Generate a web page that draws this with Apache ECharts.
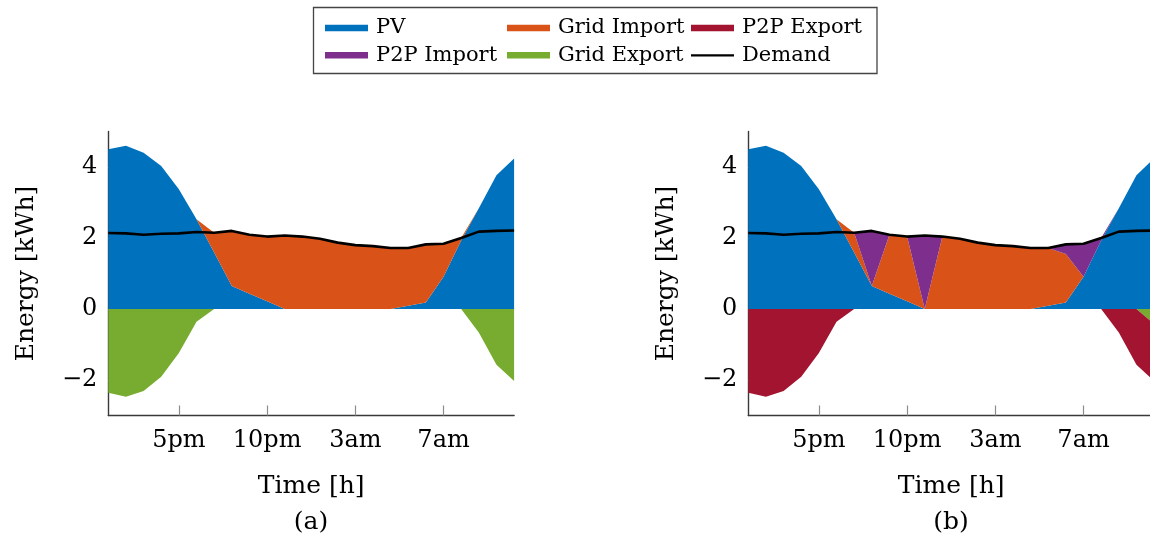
<!DOCTYPE html>
<html>
<head>
<meta charset="utf-8">
<title>Energy balance</title>
<script src="https://cdn.jsdelivr.net/npm/echarts@6/dist/echarts.min.js"></script>
<style>
  html, body { margin: 0; padding: 0; background: #fff; }
  #chart { width: 1150px; height: 540px; }
</style>
</head>
<body>
<div id="chart"></div>
<script>
// Time steps (hourly) and axis ticks
const steps = [1, 2, 3, 4, 5, 6, 7, 8, 9, 10, 11, 12, 13, 14, 15, 16, 17, 18, 19, 20, 21, 22, 23, 24];
const xTickPositions = [5, 10, 15, 20];
const xTickLabels = ['5pm', '10pm', '3am', '7am'];
const yTickValues = [-2, 0, 2, 4];

// Household demand and PV generation [kWh]
const demand = [2.14, 2.13, 2.09, 2.12, 2.13, 2.17, 2.15, 2.20, 2.09, 2.04, 2.07, 2.04, 1.98, 1.87, 1.80, 1.77, 1.72, 1.72, 1.82, 1.84, 2.00, 2.18, 2.20, 2.21];
const pv = [4.50, 4.60, 4.40, 4.03, 3.37, 2.53, 1.59, 0.65, 0.43, 0.22, 0, 0, 0, 0, 0, 0, 0, 0.09, 0.18, 0.91, 1.93, 2.84, 3.77, 4.24];

// (a) grid only
const gridImportA = [0, 0, 0, 0, 0, 0, 0.56, 1.55, 1.66, 1.82, 2.07, 2.04, 1.98, 1.87, 1.80, 1.77, 1.72, 1.63, 1.64, 0.93, 0.07, 0, 0, 0];
const gridExportA = [-2.36, -2.47, -2.31, -1.91, -1.24, -0.36, 0, 0, 0, 0, 0, 0, 0, 0, 0, 0, 0, 0, 0, 0, 0, -0.66, -1.57, -2.03];

// (b) with peer-to-peer trading
const gridImportB = [0, 0, 0, 0, 0, 0, 0.56, 0, 1.66, 1.82, 0, 2.04, 1.98, 1.87, 1.80, 1.77, 1.72, 1.63, 1.37, 0, 0, 0, 0, 0];
const p2pImportB = [0, 0, 0, 0, 0, 0, 0, 1.55, 0, 0, 2.07, 0, 0, 0, 0, 0, 0, 0, 0.27, 0.93, 0.07, 0, 0, 0];
const gridExportB = [0, 0, 0, 0, 0, 0, 0, 0, 0, 0, 0, 0, 0, 0, 0, 0, 0, 0, 0, 0, 0, 0, 0, -0.42];
const p2pExportB = [-2.36, -2.47, -2.31, -1.91, -1.24, -0.36, 0, 0, 0, 0, 0, 0, 0, 0, 0, 0, 0, 0, 0, 0, 0, -0.66, -1.57, -1.61];

const COLORS = {
  'PV': '#0072BD',
  'Grid Import': '#D95319',
  'P2P Export': '#A2142F',
  'P2P Import': '#7E2F8E',
  'Grid Export': '#77AC30',
  'Demand': '#000000'
};
const FONT = 'DejaVu Serif';

function areaSeries(name, values, stack, idx) {
  const c = COLORS[name];
  return {
    name: name,
    type: 'line',
    xAxisIndex: idx,
    yAxisIndex: idx,
    stack: stack + idx,
    data: values,
    symbol: 'none',
    showSymbol: false,
    lineStyle: { width: 0, opacity: 0 },
    areaStyle: { color: c, opacity: 1 },
    itemStyle: { color: c },
    emphasis: { disabled: true },
    z: 2
  };
}

function demandSeries(idx) {
  return {
    name: 'Demand',
    type: 'line',
    xAxisIndex: idx,
    yAxisIndex: idx,
    data: demand,
    symbol: 'none',
    showSymbol: false,
    lineStyle: { color: '#000', width: 2.6 },
    itemStyle: { color: '#000' },
    emphasis: { disabled: true },
    z: 5
  };
}

const isTick = (index) => xTickPositions.indexOf(steps[index]) >= 0;

function xAxis(idx) {
  return {
    type: 'category',
    gridIndex: idx,
    data: steps.map(String),
    boundaryGap: false,
    name: 'Time [h]',
    nameLocation: 'middle',
    nameGap: 58,
    nameTextStyle: { fontFamily: FONT, fontSize: 25, color: '#000' },
    axisLine: { show: true, onZero: false, lineStyle: { color: '#3a3a3a', width: 1.4 } },
    axisTick: { show: true, inside: true, length: 10, interval: isTick, lineStyle: { color: '#8c8c8c', width: 1.2 } },
    axisLabel: {
      interval: isTick,
      margin: 13,
      fontFamily: FONT, fontSize: 24, color: '#000',
      formatter: v => xTickLabels[xTickPositions.indexOf(Number(v))]
    },
    splitLine: { show: false }
  };
}

function yAxis(idx) {
  return {
    type: 'value',
    gridIndex: idx,
    min: -3,
    max: 5,
    name: 'Energy [kWh]',
    nameLocation: 'middle',
    nameRotate: 90,
    nameGap: 69,
    nameTextStyle: { fontFamily: FONT, fontSize: 25, color: '#000' },
    axisLine: { show: true, lineStyle: { color: '#3a3a3a', width: 1.4 } },
    axisTick: { show: true, inside: true, length: 10, customValues: yTickValues, lineStyle: { color: '#8c8c8c', width: 1.2 } },
    axisLabel: {
      customValues: yTickValues,
      margin: 11,
      padding: [6, 0, 0, 0],
      fontFamily: FONT, fontSize: 24, color: '#000',
      formatter: v => (v < 0 ? '\u2212' + Math.abs(v) : String(v))
    },
    splitLine: { show: false }
  };
}

// One legend block per entry so the entries line up in three columns
const legendLayout = [
  { name: 'PV', left: 325, top: 17.5 },
  { name: 'Grid Import', left: 507, top: 17.5 },
  { name: 'P2P Export', left: 691, top: 17.5 },
  { name: 'P2P Import', left: 325, top: 44.8 },
  { name: 'Grid Export', left: 507, top: 44.8 },
  { name: 'Demand', left: 691, top: 44.8 }
];
const legends = legendLayout.map(l => ({
  data: [{ name: l.name, icon: 'rect', itemStyle: { color: COLORS[l.name], borderWidth: 0 } }],
  left: l.left,
  top: l.top,
  padding: 0,
  itemWidth: 43,
  itemHeight: l.name === 'Demand' ? 2.2 : 6.5,
  textStyle: { fontFamily: FONT, fontSize: 21, color: '#000', padding: [0, 0, 0, 3] }
}));

const option = {
  animation: false,
  backgroundColor: '#ffffff',
  legend: legends,
  grid: [
    { left: 108.3, top: 131.5, width: 405.8, height: 284, outerBoundsMode: 'none' },
    { left: 748.3, top: 131.5, width: 405.8, height: 284, outerBoundsMode: 'none' }
  ],
  xAxis: [xAxis(0), xAxis(1)],
  yAxis: [yAxis(0), yAxis(1)],
  series: [
    areaSeries('PV', pv, 'pos', 0),
    areaSeries('Grid Import', gridImportA, 'pos', 0),
    areaSeries('Grid Export', gridExportA, 'neg', 0),
    demandSeries(0),
    areaSeries('PV', pv, 'pos', 1),
    areaSeries('Grid Import', gridImportB, 'pos', 1),
    areaSeries('P2P Import', p2pImportB, 'pos', 1),
    areaSeries('Grid Export', gridExportB, 'neg', 1),
    areaSeries('P2P Export', p2pExportB, 'neg', 1),
    demandSeries(1)
  ],
  graphic: [
    {
      type: 'rect',
      shape: { x: 313.5, y: 7.5, width: 563.5, height: 66 },
      style: { fill: 'none', stroke: '#444', lineWidth: 1.3 },
      silent: true
    },
    {
      type: 'text', x: 311, y: 522,
      style: { text: '(a)', font: '25px "DejaVu Serif"', fill: '#000', align: 'center', verticalAlign: 'middle' },
      silent: true
    },
    {
      type: 'text', x: 951, y: 522,
      style: { text: '(b)', font: '25px "DejaVu Serif"', fill: '#000', align: 'center', verticalAlign: 'middle' },
      silent: true
    }
  ]
};

const chart = echarts.init(document.getElementById('chart'), null, { renderer: 'canvas' });
chart.setOption(option);
</script>
</body>
</html>
